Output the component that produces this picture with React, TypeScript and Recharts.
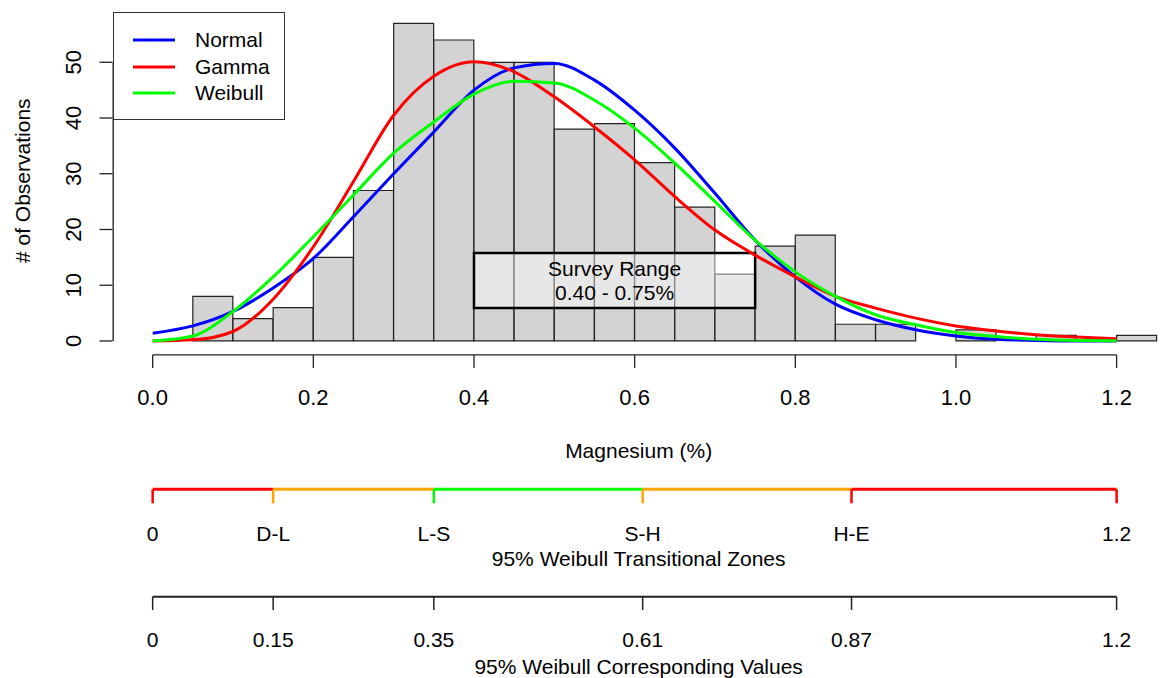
import { ComposedChart, Bar, Line, XAxis, YAxis, ReferenceArea, Legend } from "recharts";

// histogram of Mg (%) – bins 0.05 wide, given by their centre
const binMids = [0.075, 0.125, 0.175, 0.225, 0.275, 0.325, 0.375, 0.425, 0.475, 0.525, 0.575, 0.625,
  0.675, 0.725, 0.775, 0.825, 0.875, 0.925, 0.975, 1.025, 1.075, 1.125, 1.175, 1.225];
const binCounts = [8, 4, 6, 15, 27, 57, 54, 50, 50, 38, 39, 32, 24, 12, 17, 19, 3, 3, 0, 2, 0, 1, 0, 1];

// fitted density curves (scaled to counts)
const curveX = [0, 0.05, 0.1, 0.15, 0.2, 0.25, 0.3, 0.35, 0.4, 0.45, 0.5, 0.55, 0.6, 0.65, 0.7, 0.75,
  0.8, 0.85, 0.9, 0.95, 1.0, 1.05, 1.1, 1.15, 1.2];
const normalFit = [1.4, 2.7, 5.3, 9.5, 14.8, 22.3, 30.0, 37.5, 45.0, 49.0, 49.8, 46.8, 41.4, 34.6, 26.5, 18.1,
  11.5, 6.6, 3.8, 2.0, 0.9, 0.3, 0.1, 0.0, 0.0];
const gammaFit = [0, 0.2, 1.7, 7.5, 16.9, 28.6, 40.5, 47.5, 50.1, 48.3, 43.8, 38.4, 32.5, 25.9, 19.9, 15.4,
  11.5, 8.0, 5.9, 4.1, 2.7, 1.8, 1.1, 0.7, 0.4];
const weibullFit = [0, 0.9, 5.3, 11.5, 18.7, 26.2, 33.7, 39.3, 44.3, 46.6, 46.3, 43.2, 38.2, 31.9, 25.0, 18.1,
  12.4, 8.0, 4.7, 2.9, 1.5, 0.8, 0.3, 0.1, 0.05];

const curveNames = ["Normal", "Gamma", "Weibull"];
const curveColors = ["#0000ff", "#ff0000", "#00ff00"];

const xTicks = [0, 0.2, 0.4, 0.6, 0.8, 1.0, 1.2];
const yTicks = [0, 10, 20, 30, 40, 50];
const surveyRange = [0.4, 0.75];

const zoneBreaks = [0, 0.15, 0.35, 0.61, 0.87, 1.2];
const zoneNames = ["0", "D-L", "L-S", "S-H", "H-E", "1.2"];
const zoneValues = ["0", "0.15", "0.35", "0.61", "0.87", "1.2"];
const zoneColors = ["#ff0000", "#ffa500", "#00ff00", "#ffa500", "#ff0000"];
const zoneTickColors = ["#ff0000", "#ffa500", "#00ff00", "#ffa500", "#ff0000", "#ff0000"];

const histData = binMids.map((m, i) => ({ mid: m, count: binCounts[i] }));
const curveData = curveX.map((x, i) => ({ mg: x, Normal: normalFit[i], Gamma: gammaFit[i], Weibull: weibullFit[i] }));
const zoneData = zoneBreaks.map((b) => ({ x: b }));

const X_DOMAIN = [-0.05, 1.26];
const Y_DOMAIN = [-2.5, 60];
const INK = "#222";
const FONT = '"Liberation Sans", Arial, sans-serif';
const W = 1167;
const MAIN_H = 470;
const X_AXIS_H = 115.1;
const MAIN_MARGIN = { top: 6.56, right: 2.2, bottom: 0, left: 0 };
const Y_LEFT = 112.5;
const AXIS_LINE_W = 0.0017; // ~1.4px in x data units

// R-style x axis line: only spans first..last tick
const xAxisLine = [{ mg: xTicks[0], v: Y_DOMAIN[0] }, { mg: xTicks[xTicks.length - 1], v: Y_DOMAIN[0] }];
const zoneSegments = zoneColors.map((_, i) => [{ x: zoneBreaks[i], v: 0 }, { x: zoneBreaks[i + 1], v: 0 }]);
const valueSegment = [{ x: zoneBreaks[0], v: 0 }, { x: zoneBreaks[zoneBreaks.length - 1], v: 0 }];

function YTick(props: any) {
  const { x, y, payload } = props;
  return (
    <text x={x} y={y} dy="0.355em" textAnchor="middle" transform={`rotate(-90 ${x} ${y})`} fontSize={22} fill="#000">
      {payload.value}
    </text>
  );
}

function ZoneTick(props: any) {
  const { x, y, payload } = props;
  const i = zoneBreaks.indexOf(payload.value);
  return (
    <g>
      <line x1={x} x2={x} y1={y - 14} y2={y} stroke={zoneTickColors[i]} strokeWidth={2.5} />
      <text x={x} y={y + 30} dy="0.355em" textAnchor="middle" fontSize={21} fill="#000">{zoneNames[i]}</text>
    </g>
  );
}

function ValueTick(props: any) {
  const { x, y, payload } = props;
  const i = zoneBreaks.indexOf(payload.value);
  return (
    <g>
      <line x1={x} x2={x} y1={y - 13.3} y2={y} stroke={INK} strokeWidth={1.5} />
      <text x={x} y={y + 30} dy="0.355em" textAnchor="middle" fontSize={21} fill="#000">{zoneValues[i]}</text>
    </g>
  );
}

function SurveyLabel(props: any) {
  const { viewBox } = props;
  const cx = viewBox.x + viewBox.width / 2;
  const cy = viewBox.y + viewBox.height / 2;
  return (
    <text textAnchor="middle" fontSize={21} fill="#000">
      <tspan x={cx} y={cy - 12} dy="0.355em">Survey Range</tspan>
      <tspan x={cx} y={cy + 12} dy="0.355em">0.40 - 0.75%</tspan>
    </text>
  );
}

function LegendBox() {
  return (
    <div style={{ width: 172, height: 108, border: "1.5px solid #333", background: "#fff", boxSizing: "border-box", position: "relative", fontFamily: FONT }}>
      {curveNames.map((n, i) => (
        <div key={n} style={{ position: "absolute", left: 19, top: 27 + i * 26.5 - 13, height: 26, display: "flex", alignItems: "center" }}>
          <svg width={42} height={4} style={{ display: "block" }}>
            <line x1={0} x2={42} y1={2} y2={2} stroke={curveColors[i]} strokeWidth={3} />
          </svg>
          <span style={{ marginLeft: 20, fontSize: 21, color: "#000", lineHeight: "26px" }}>{n}</span>
        </div>
      ))}
    </div>
  );
}

export default function App() {
  return (
    <div style={{ position: "absolute", left: 0, top: 0, width: W, height: 678, background: "#fff", fontFamily: FONT }}>
      {/* histogram + axes ticks + titles */}
      <div style={{ position: "absolute", left: 0, top: 0 }}>
        <ComposedChart width={W} height={MAIN_H} data={histData} margin={MAIN_MARGIN} barCategoryGap={0} barGap={0}>
          <XAxis
            type="number"
            dataKey="mid"
            domain={X_DOMAIN}
            ticks={xTicks}
            interval={0}
            tickFormatter={(v: number) => v.toFixed(1)}
            axisLine={false}
            tickLine={{ stroke: INK, strokeWidth: 1.3 }}
            tickSize={13}
            tickMargin={21}
            height={X_AXIS_H}
            tick={{ fontSize: 22, fill: "#000" }}
            label={{ value: "Magnesium (%)", position: "insideBottom", offset: 12, fontSize: 21, fill: "#000" }}
          />
          <YAxis
            type="number"
            domain={Y_DOMAIN}
            ticks={yTicks}
            interval={0}
            width={Y_LEFT}
            axisLine={false}
            tickLine={{ stroke: INK, strokeWidth: 1.3 }}
            tickSize={13}
            tickMargin={25.8}
            tick={YTick}
            label={{ value: "# of Observations", angle: -90, position: "insideLeft", offset: 23, fontSize: 21, fill: "#000", style: { textAnchor: "middle" } }}
          />
          <Bar dataKey="count" fill="#d3d3d3" stroke={INK} strokeWidth={1.2} isAnimationActive={false} />
        </ComposedChart>
      </div>

      {/* fitted curves, axis lines, survey box, legend */}
      <div style={{ position: "absolute", left: 0, top: 0 }}>
        <ComposedChart
          width={W}
          height={MAIN_H}
          data={curveData}
          margin={{ top: MAIN_MARGIN.top, right: MAIN_MARGIN.right, bottom: X_AXIS_H, left: Y_LEFT }}
        >
          <XAxis type="number" dataKey="mg" domain={X_DOMAIN} hide />
          <YAxis type="number" domain={Y_DOMAIN} hide />
          {/* y axis line, R style: 0..50 only */}
          <ReferenceArea
            x1={X_DOMAIN[0]}
            x2={X_DOMAIN[0] + AXIS_LINE_W}
            y1={yTicks[0]}
            y2={yTicks[yTicks.length - 1]}
            fill={INK}
            fillOpacity={1}
            stroke="none"
          />
          <Line data={xAxisLine} dataKey="v" type="linear" stroke={INK} strokeWidth={1.3} dot={false} legendType="none" isAnimationActive={false} />
          {curveNames.map((n, i) => (
            <Line key={n} dataKey={n} name={n} type="monotone" stroke={curveColors[i]} strokeWidth={3} dot={false} isAnimationActive={false} />
          ))}
          <ReferenceArea
            x1={surveyRange[0]}
            x2={surveyRange[1]}
            y1={5.9}
            y2={15.8}
            fill="#ffffff"
            fillOpacity={0.45}
            stroke="#000"
            strokeWidth={2.5}
            label={<SurveyLabel />}
          />
          <Legend
            content={<LegendBox />}
            layout="horizontal"
            verticalAlign="middle"
            align="center"
            wrapperStyle={{ left: 113, top: 12, width: 172, height: 108 }}
          />
        </ComposedChart>
      </div>

      {/* transitional zones strip */}
      <div style={{ position: "absolute", left: 0, top: 470 }}>
        <ComposedChart width={W} height={100} data={zoneData} margin={{ top: 10, right: 2.2, bottom: 0, left: Y_LEFT }}>
          <XAxis
            type="number"
            dataKey="x"
            domain={X_DOMAIN}
            ticks={zoneBreaks}
            interval={0}
            height={80.7}
            tickSize={14}
            tickMargin={0}
            tickLine={false}
            axisLine={false}
            tick={ZoneTick}
            label={{ value: "95% Weibull Transitional Zones", position: "insideBottom", offset: 4.5, fontSize: 21, fill: "#000" }}
          />
          <YAxis type="number" domain={[0, 1]} hide />
          {zoneSegments.map((seg, i) => (
            <Line key={i} data={seg} dataKey="v" type="linear" stroke={zoneColors[i]} strokeWidth={3} dot={false} isAnimationActive={false} />
          ))}
        </ComposedChart>
      </div>

      {/* corresponding values strip */}
      <div style={{ position: "absolute", left: 0, top: 570 }}>
        <ComposedChart width={W} height={108} data={zoneData} margin={{ top: 10, right: 2.2, bottom: 0, left: Y_LEFT }}>
          <XAxis
            type="number"
            dataKey="x"
            domain={X_DOMAIN}
            ticks={zoneBreaks}
            interval={0}
            height={81.3}
            tickSize={13.3}
            tickMargin={0}
            tickLine={false}
            axisLine={false}
            tick={ValueTick}
            label={{ value: "95% Weibull Corresponding Values", position: "insideBottom", offset: 3.8, fontSize: 21, fill: "#000" }}
          />
          <YAxis type="number" domain={[0, 1]} hide />
          <Line data={valueSegment} dataKey="v" type="linear" stroke={INK} strokeWidth={2} dot={false} isAnimationActive={false} />
        </ComposedChart>
      </div>
    </div>
  );
}
